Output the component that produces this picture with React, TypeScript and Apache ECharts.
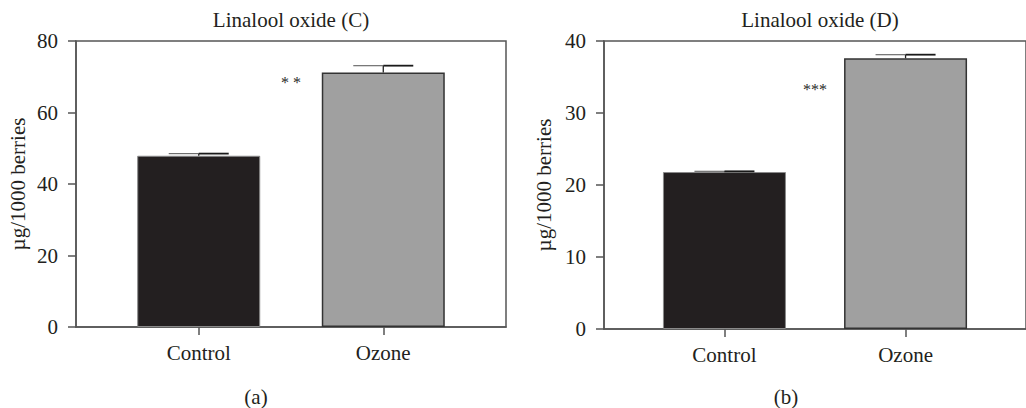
import React, { useEffect, useRef } from "react";
import * as echarts from "echarts";

// ---- Data ----
const categories = ["Control", "Ozone"];
const barColors = ["#231f20", "#a0a0a0"];

const panelATitle = "Linalool oxide (C)";
const panelAValues = [47.9, 71.2];
const panelAErrors = [0.6, 1.9];
const panelAYTicks = { min: 0, max: 80, interval: 20 };
const panelASignif = { x: 0.5, y: 69.2, text: "* *" };

const panelBTitle = "Linalool oxide (D)";
const panelBValues = [21.8, 37.6];
const panelBErrors = [0.1, 0.5];
const panelBYTicks = { min: 0, max: 40, interval: 10 };
const panelBSignif = { x: 0.5, y: 33.7, text: "***" };

const yAxisName = "µg/1000 berries";
const panelLabels = ["(a)", "(b)"];

const FONT = "Liberation Serif";
const FS = 21;
const TXT = "#231f20";
const AX = "#555555";

const X_MIN = -0.665;
const X_MAX = 1.665;

function xAxisFor(gridIndex: number) {
  return {
    type: "value" as const,
    gridIndex,
    min: X_MIN,
    max: X_MAX,
    splitLine: { show: false },
    axisLine: { show: true, onZero: false, lineStyle: { color: AX, width: 1.5 } },
    axisTick: {
      show: true,
      length: 8,
      customValues: [0, 1],
      lineStyle: { color: AX, width: 1.5 },
    },
    axisLabel: {
      show: true,
      customValues: [0, 1],
      margin: 15,
      formatter: (v: number) => categories[Math.round(v)] ?? "",
      fontFamily: FONT,
      fontSize: FS,
      color: TXT,
    },
  };
}

function yAxisFor(gridIndex: number, t: { min: number; max: number; interval: number }, gap: number) {
  return {
    type: "value" as const,
    gridIndex,
    min: t.min,
    max: t.max,
    interval: t.interval,
    name: yAxisName,
    nameLocation: "middle" as const,
    nameGap: gap,
    nameTextStyle: { fontFamily: FONT, fontSize: FS, color: TXT },
    splitLine: { show: false },
    axisLine: { show: true, onZero: false, lineStyle: { color: AX, width: 1.5 } },
    axisTick: { show: true, length: 8, lineStyle: { color: AX, width: 1.5 } },
    axisLabel: { margin: 18, fontFamily: FONT, fontSize: FS, color: TXT },
  };
}

function barSeries(idx: number, values: number[]) {
  return {
    type: "bar" as const,
    xAxisIndex: idx,
    yAxisIndex: idx,
    barWidth: 123,
    data: values.map((v, i) => ({
      value: [i, v],
      itemStyle: {
        color: barColors[i],
        borderColor: i === 0 ? "#8a8a8a" : "#333333",
        borderWidth: i === 0 ? 1 : 1.5,
      },
    })),
  };
}

function errSeries(idx: number, values: number[], errs: number[]) {
  return {
    type: "custom" as const,
    xAxisIndex: idx,
    yAxisIndex: idx,
    z: 5,
    data: values.map((v, i) => [i, v, errs[i]]),
    renderItem: (_params: any, api: any) => {
      const x = api.value(0);
      const y = api.value(1);
      const e = api.value(2);
      const p0 = api.coord([x, y]);
      const p1 = api.coord([x, y + e]);
      const hw = 30;
      return {
        type: "group",
        children: [
          {
            type: "line",
            shape: { x1: p0[0], y1: p0[1], x2: p1[0], y2: p1[1] },
            style: { stroke: "#222", lineWidth: 1.3 },
          },
          {
            type: "line",
            shape: { x1: p1[0] - hw, y1: p1[1], x2: p1[0], y2: p1[1] },
            style: { stroke: "#6e6e6e", lineWidth: 1.2 },
          },
          {
            type: "line",
            shape: { x1: p1[0], y1: p1[1], x2: p1[0] + hw, y2: p1[1] },
            style: { stroke: "#1a1a1a", lineWidth: 1.8 },
          },
        ],
      };
    },
  };
}

function signifSeries(idx: number, s: { x: number; y: number; text: string }) {
  return {
    type: "custom" as const,
    xAxisIndex: idx,
    yAxisIndex: idx,
    z: 6,
    data: [[s.x, s.y]],
    renderItem: (_params: any, api: any) => {
      const p = api.coord([api.value(0), api.value(1)]);
      return {
        type: "text",
        x: p[0],
        y: p[1] + 3,
        style: {
          text: s.text,
          fontFamily: FONT,
          fontSize: 16,
          fill: "#2a2a2a",
          textAlign: "center",
          textVerticalAlign: "middle",
        },
      };
    },
  };
}

export default function App() {
  const ref = useRef<HTMLDivElement>(null);
  useEffect(() => {
    if (!ref.current) return;
    const chart = echarts.init(ref.current, undefined, { renderer: "svg" });
    const txt = (text: string, x: number, y: number) => ({
      type: "text",
      x,
      y,
      style: { text, fontFamily: FONT, fontSize: FS, fill: TXT, textAlign: "center", textVerticalAlign: "middle" },
    });
    chart.setOption({
      animation: false,
      backgroundColor: "#ffffff",
      grid: [
        { left: 76, top: 41, width: 430, height: 286, show: true, borderColor: AX, borderWidth: 1.5, backgroundColor: "transparent" },
        { left: 604, top: 41, width: 432, height: 288, show: true, borderColor: AX, borderWidth: 1.5, backgroundColor: "transparent" },
      ],
      xAxis: [xAxisFor(0), xAxisFor(1)],
      yAxis: [yAxisFor(0, panelAYTicks, 48), yAxisFor(1, panelBYTicks, 50)],
      series: [
        barSeries(0, panelAValues),
        barSeries(1, panelBValues),
        errSeries(0, panelAValues, panelAErrors),
        errSeries(1, panelBValues, panelBErrors),
        signifSeries(0, panelASignif),
        signifSeries(1, panelBSignif),
      ],
      graphic: [
        txt(panelATitle, 291, 20),
        txt(panelBTitle, 820, 20),
        txt(panelLabels[0], 256, 397),
        txt(panelLabels[1], 786, 397),
      ],
    });
    return () => chart.dispose();
  }, []);
  return (
    <div
      ref={ref}
      style={{ position: "fixed", left: 0, top: 0, width: 1026, height: 408, background: "#fff" }}
    />
  );
}
